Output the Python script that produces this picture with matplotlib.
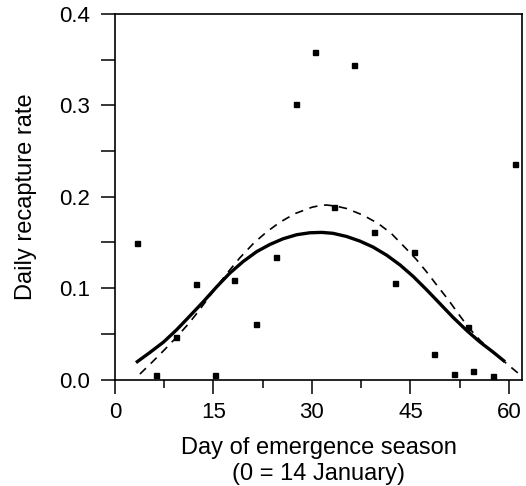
import numpy as np
import matplotlib
matplotlib.use("Agg")
import matplotlib.pyplot as plt
from matplotlib.ticker import MultipleLocator, FormatStrFormatter

plt.rcParams['font.family'] = ['Liberation Sans', 'DejaVu Sans']

# observed daily recapture rates
obs_day = [3.3, 6.3, 9.3, 12.3, 15.3, 18.2, 21.5, 24.5, 27.5, 30.5, 33.4,
           36.4, 39.4, 42.7, 45.6, 48.6, 51.6, 53.8, 54.6, 57.6, 60.9]
obs_rate = [0.149, 0.005, 0.047, 0.104, 0.005, 0.109, 0.061, 0.134, 0.302,
            0.358, 0.189, 0.344, 0.161, 0.106, 0.139, 0.028, 0.006, 0.057,
            0.009, 0.004, 0.236]

# fitted curve (solid)
fit_day = [3.2, 5.3, 7.4, 9.4, 11.4, 13.5, 15.5, 17.5, 19.5, 21.6, 23.6, 25.6,
           27.7, 29.7, 31.5, 33.2, 35.3, 37.3, 39.3, 41.4, 43.4, 45.4, 47.5,
           49.5, 51.5, 53.6, 55.6, 57.6, 59.4]
fit_rate = [0.0185, 0.0295, 0.041, 0.0545, 0.0695, 0.0855, 0.1015, 0.1165,
            0.129, 0.140, 0.1478, 0.154, 0.1585, 0.1606, 0.161, 0.160, 0.1565,
            0.1515, 0.145, 0.136, 0.1255, 0.113, 0.098, 0.083, 0.068, 0.0535,
            0.041, 0.030, 0.0195]

# second curve (dashed)
alt_day = [3.8, 5.8, 7.6, 9.4, 11.2, 12.7, 14.2, 15.8, 17.5, 19.0, 21.1, 23.1,
           25.1, 27.4, 30.0, 31.1, 32.2, 33.7, 35.3, 37.8, 40.1, 42.1, 43.9,
           45.9, 47.5, 49.0, 50.8, 52.3, 53.8, 55.6, 57.6, 59.4, 61.4, 62.0]
alt_rate = [0.006, 0.020, 0.033, 0.0465, 0.061, 0.0745, 0.089, 0.1045, 0.120,
            0.133, 0.149, 0.1615, 0.172, 0.1815, 0.1885, 0.1902, 0.191, 0.1897,
            0.1871, 0.1798, 0.1707, 0.1598, 0.1465, 0.1315, 0.1175, 0.1035,
            0.087, 0.072, 0.0575, 0.043, 0.0295, 0.019, 0.007, 0.004]

fig = plt.figure(figsize=(5.26, 4.86), dpi=100)
ax = fig.add_axes([0.2186, 0.2191, 0.7738, 0.7521])

ax.plot(alt_day, alt_rate, color='black', lw=1.2, ls=(0, (5, 4)))
ax.plot(fit_day, fit_rate, color='black', lw=2.4, solid_capstyle='butt')
ax.plot(obs_day, obs_rate, ls='none', marker='s', ms=3.6, color='black')

ax.set_xlim(0, 62)
ax.set_ylim(0, 0.4)
ax.set_xticks([0, 15, 30, 45, 60])
ax.xaxis.set_minor_locator(MultipleLocator(7.5))
ax.set_yticks([0.0, 0.1, 0.2, 0.3, 0.4])
ax.yaxis.set_minor_locator(MultipleLocator(0.05))
ax.yaxis.set_major_formatter(FormatStrFormatter('%.1f'))

ax.tick_params(axis='both', which='major', direction='out', length=10,
               width=1.1, labelsize=16)
ax.tick_params(axis='x', which='major', pad=6)
ax.tick_params(axis='y', which='major', pad=8)
ax.tick_params(axis='x', which='minor', direction='out', length=6, width=1.1)
ax.tick_params(axis='y', which='minor', direction='out', length=10, width=1.1)
for s in ax.spines.values():
    s.set_linewidth(1.2)

ax.set_xlabel("Day of emergence season\n(0 = 14 January)", fontsize=17,
              labelpad=10, linespacing=1.28)
ax.set_ylabel("Daily recapture rate", fontsize=17, labelpad=16)

fig.savefig("out.png", dpi=100)
